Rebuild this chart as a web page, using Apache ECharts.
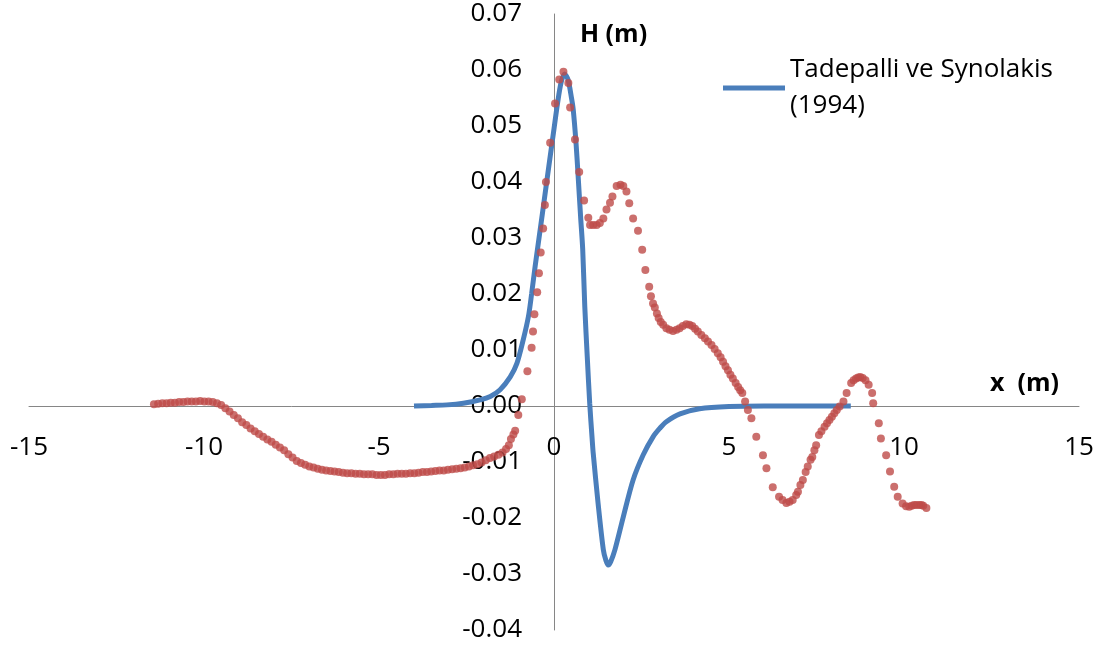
<!DOCTYPE html>
<html>
<head>
<meta charset="utf-8">
<script src="https://cdn.jsdelivr.net/npm/echarts@6/dist/echarts.min.js"></script>
<style>
  html, body { margin: 0; padding: 0; background: #ffffff; }
  #chart { width: 1099px; height: 649px; }
</style>
</head>
<body>
<div id="chart"></div>
<script>
// ---- Data ----
var xTicks = [-15, -10, -5, 0, 5, 10, 15];
var yTicks = [-0.04, -0.03, -0.02, -0.01, 0.00, 0.01, 0.02, 0.03, 0.04, 0.05, 0.06, 0.07];

var modelName = 'Tadepalli ve Synolakis (1994)';
var modelX = [-4.0, -3.5, -3.06, -2.59, -2.11, -1.82, -1.54, -1.25, -1.06, -0.88, -0.73, -0.64, -0.54,
  -0.45, -0.3, -0.15, 0.0, 0.1, 0.2, 0.3, 0.4, 0.5, 0.55, 0.63, 0.69, 0.76, 0.82, 0.88, 0.95, 1.02,
  1.09, 1.12, 1.26, 1.41, 1.48, 1.55, 1.62, 1.74, 1.98, 2.26, 2.55, 2.83, 3.02, 3.21, 3.6, 4.16, 5.0,
  6.0, 7.0, 8.0, 8.48];
var modelH = [0.0, 0.0001, 0.0002, 0.0005, 0.0011, 0.0017, 0.0029, 0.0052, 0.0076, 0.0118, 0.016, 0.0200, 0.0249,
  0.0290, 0.0358, 0.0427, 0.0495, 0.0540, 0.0577, 0.0593, 0.0583, 0.0550, 0.0529, 0.0469, 0.0410, 0.0338, 0.0280, 0.0177, 0.0088, 0.0005,
  -0.0059, -0.0084, -0.0174, -0.0257, -0.0275, -0.0284, -0.0278, -0.0257, -0.0198, -0.0132, -0.0087, -0.0055, -0.0040, -0.0028, -0.0014, -0.0005, -0.0001,
  0.0, 0.0, 0.0, 0.0];

var expName = 'Deney';
var expX = [-11.43, -11.31, -11.19, -11.07, -10.95, -10.83, -10.71, -10.59, -10.47, -10.35, -10.23, -10.11,
  -9.99, -9.87, -9.75, -9.63, -9.51, -9.39, -9.27, -9.15, -9.03, -8.91, -8.79, -8.67, -8.55, -8.43, -8.31,
  -8.19, -8.07, -7.95, -7.83, -7.71, -7.59, -7.47, -7.35, -7.23, -7.11, -6.99, -6.87, -6.75, -6.63, -6.51,
  -6.39, -6.27, -6.15, -6.03, -5.91, -5.79, -5.67, -5.55, -5.43, -5.31, -5.19, -5.07, -4.95, -4.83, -4.71,
  -4.59, -4.47, -4.35, -4.23, -4.11, -3.99, -3.87, -3.75, -3.63, -3.51, -3.39, -3.27, -3.15, -3.03, -2.91,
  -2.79, -2.67, -2.55, -2.43, -2.31, -2.19, -2.07, -1.95, -1.83, -1.71, -1.59, -1.47, -1.37, -1.29,
  -1.23, -1.16, -1.11, -1.02, -0.92, -0.76, -0.64, -0.6, -0.56, -0.48, -0.43, -0.38, -0.31, -0.26, -0.23,
  -0.11, 0.03, 0.15, 0.27, 0.41, 0.46, 0.6, 0.72, 0.86, 0.98, 1.03, 1.12, 1.22, 1.31, 1.41, 1.5, 1.6, 1.67,
  1.79, 1.9, 1.98, 2.07, 2.15, 2.26, 2.4, 2.52, 2.61, 2.72, 2.77, 2.83, 2.88, 2.94, 2.99, 3.05, 3.12, 3.21,
  3.3, 3.4, 3.5, 3.59, 3.68, 3.78, 3.87, 3.95, 4.03, 4.11, 4.21, 4.31, 4.4, 4.5, 4.59, 4.68, 4.76, 4.83,
  4.9, 4.97, 5.04, 5.11, 5.19, 5.26, 5.32, 5.38, 5.46, 5.54, 5.64, 5.78, 5.97, 6.07, 6.25, 6.43, 6.53, 6.64,
  6.73, 6.82, 6.92, 6.97, 7.04, 7.11, 7.19, 7.25, 7.33, 7.38, 7.44, 7.49, 7.57, 7.64, 7.73, 7.8, 7.87, 7.94,
  8.01, 8.08, 8.16, 8.27, 8.36, 8.49, 8.56, 8.63, 8.69, 8.75, 8.82, 8.9, 8.99, 9.09, 9.12, 9.28, 9.34, 9.49,
  9.6, 9.72, 9.82, 9.96, 10.06, 10.15, 10.22, 10.29, 10.36, 10.44, 10.5, 10.55, 10.64];
var expH = [0.0003, 0.0004, 0.0005, 0.0005, 0.0006, 0.0006, 0.0007, 0.0007, 0.0008, 0.0008, 0.0008, 0.0009,
  0.0008, 0.0008, 0.0007, 0.0005, 0.0002, -0.0004, -0.0010, -0.0016, -0.0022, -0.0029, -0.0034, -0.0040, -0.0045, -0.0050, -0.0055,
  -0.0060, -0.0064, -0.0069, -0.0074, -0.0079, -0.0086, -0.0092, -0.0098, -0.0102, -0.0105, -0.0108, -0.0110, -0.0112, -0.0114, -0.0115,
  -0.0116, -0.0117, -0.0118, -0.0119, -0.0120, -0.0120, -0.0121, -0.0121, -0.0122, -0.0122, -0.0122, -0.0123, -0.0123, -0.0123, -0.0122,
  -0.0122, -0.0121, -0.0121, -0.0121, -0.0120, -0.0120, -0.0119, -0.0118, -0.0118, -0.0117, -0.0116, -0.0115, -0.0115, -0.0114, -0.0113,
  -0.0112, -0.0111, -0.0110, -0.0108, -0.0106, -0.0104, -0.0101, -0.0097, -0.0093, -0.0090, -0.0087, -0.0083, -0.0077, -0.0070,
  -0.0059, -0.0051, -0.0044, -0.0016, 0.0012, 0.0062, 0.0104, 0.0133, 0.0164, 0.0203, 0.0237, 0.0274, 0.0317, 0.0359, 0.0400,
  0.0470, 0.0540, 0.0583, 0.0597, 0.0577, 0.0533, 0.0476, 0.0418, 0.0367, 0.0336, 0.0323, 0.0323, 0.0323, 0.0327, 0.0335, 0.0351, 0.0363, 0.0374,
  0.0393, 0.0395, 0.0393, 0.0383, 0.0362, 0.0335, 0.0313, 0.0279, 0.0243, 0.0213, 0.0196, 0.0183, 0.0176, 0.0165, 0.0157, 0.0150, 0.0145, 0.0139,
  0.0136, 0.0134, 0.0136, 0.0139, 0.0143, 0.0146, 0.0145, 0.0143, 0.0138, 0.0133, 0.0127, 0.0121, 0.0115, 0.0109, 0.0102, 0.0094, 0.0087, 0.0079,
  0.0071, 0.0064, 0.0056, 0.0049, 0.0041, 0.0034, 0.0028, 0.0023, 0.0008, -0.0007, -0.0022, -0.0055, -0.0088, -0.0111, -0.0145, -0.0162, -0.0168, -0.0173,
  -0.0171, -0.0168, -0.0159, -0.0153, -0.0141, -0.0132, -0.0118, -0.0108, -0.0096, -0.0091, -0.0079, -0.0070, -0.0052, -0.0045, -0.0037, -0.0031, -0.0025, -0.0019,
  -0.0013, -0.0007, -0.0001, 0.0008, 0.0023, 0.0041, 0.0046, 0.0049, 0.0051, 0.0052, 0.0050, 0.0046, 0.0038, 0.0023, 0.0005, -0.0031, -0.0058, -0.0088,
  -0.0117, -0.0144, -0.0162, -0.0174, -0.0179, -0.0180, -0.0178, -0.0177, -0.0177, -0.0177, -0.0177, -0.0178, -0.0182];

var xAxisName = 'x  (m)';
var yAxisName = 'H (m)';

// ---- Chart ----
var FONT = '"Open Sans", "Liberation Sans", sans-serif';
var modelData = modelX.map(function (x, i) { return [x, modelH[i]]; });
var expData = expX.map(function (x, i) { return [x, expH[i]]; });

var GRID = { left: 29, right: 20, top: 14, bottom: 19 };
var W = 1099, H = 649;
var plotW = W - GRID.left - GRID.right;
var plotH = H - GRID.top - GRID.bottom;
var xMin = xTicks[0], xMax = xTicks[xTicks.length - 1];
var yMin = yTicks[0], yMax = yTicks[yTicks.length - 1];
// axes cross at zero: shift the axes (with their labels) inward to the zero lines
var xAxisOffset = -Math.round((0 - yMin) / (yMax - yMin) * plotH);
var yAxisOffset = -Math.round((0 - xMin) / (xMax - xMin) * plotW);

var chart = echarts.init(document.getElementById('chart'), null, { renderer: 'canvas' });
chart.setOption({
  backgroundColor: '#ffffff',
  animation: false,
  grid: { left: GRID.left, right: GRID.right, top: GRID.top, bottom: GRID.bottom,
    containLabel: false, outerBoundsMode: 'none' },
  xAxis: {
    type: 'value', position: 'bottom', offset: xAxisOffset,
    min: xMin, max: xMax, interval: 5,
    axisLine: { show: true, onZero: false, lineStyle: { color: '#868686', width: 1 } },
    axisTick: { show: false },
    splitLine: { show: false },
    axisLabel: { color: '#000000', fontFamily: FONT, fontSize: 26, margin: 29,
      formatter: function (v) { return String(Math.round(v)); } }
  },
  yAxis: {
    type: 'value', position: 'left', offset: yAxisOffset,
    min: yMin, max: yMax, interval: 0.01,
    axisLine: { show: true, onZero: false, lineStyle: { color: '#868686', width: 1 } },
    axisTick: { show: false },
    splitLine: { show: false },
    axisLabel: { color: '#000000', fontFamily: FONT, fontSize: 26, margin: 32,
      formatter: function (v) { return Math.abs(v) < 1e-9 ? '0.00' : v.toFixed(2); } }
  },
  legend: {
    data: [modelName],
    left: 723, top: 34, padding: 0,
    icon: 'rect', itemWidth: 62, itemHeight: 5,
    formatter: function () { return 'Tadepalli ve Synolakis\n(1994)'; },
    textStyle: { color: '#000000', fontFamily: FONT, fontSize: 26, lineHeight: 36, padding: [36, 0, 0, 0] }
  },
  graphic: [
    { type: 'text', left: 580, top: 22, style: { text: yAxisName, font: 'bold 25px ' + FONT, fill: '#000000' } },
    { type: 'text', left: 990, top: 371, style: { text: xAxisName, font: 'bold 25px ' + FONT, fill: '#000000' } }
  ],
  series: [
    {
      name: modelName, type: 'line', data: modelData, smooth: 0.3,
      showSymbol: false, symbol: 'none',
      lineStyle: { color: '#4a7ebb', width: 5 },
      itemStyle: { color: '#4a7ebb' },
      z: 2
    },
    {
      name: expName, type: 'scatter', data: expData,
      symbol: 'circle', symbolSize: 8,
      itemStyle: { color: '#be4b48' },
      z: 3
    }
  ]
});
</script>
</body>
</html>
